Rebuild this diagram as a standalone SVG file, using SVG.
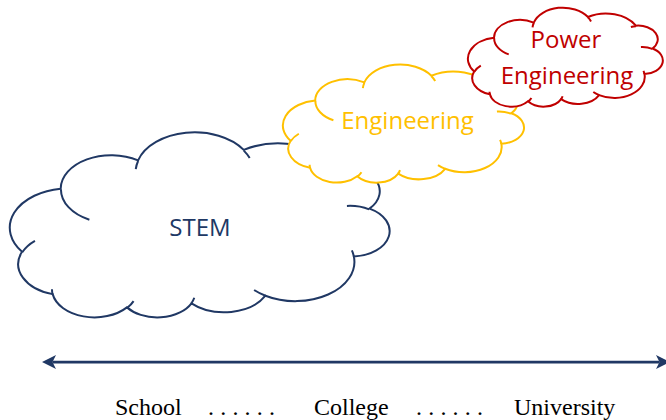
<svg xmlns="http://www.w3.org/2000/svg" xmlns:xlink="http://www.w3.org/1999/xlink" width="666" height="420" viewBox="0 0 666 420">
  <style>
    .cloud { fill: #ffffff; stroke-width: 2; }
    .stem { stroke: #203864; }
    .eng { stroke: #FFC000; }
    .pow { stroke: #C00000; }
    .lbl { font-family: "Open Sans", "Noto Sans", sans-serif; font-size: 24px; text-anchor: middle; }
    .axis { font-family: "Liberation Serif", "Times New Roman", serif; font-size: 24px; fill: #000000; }
    .dots { letter-spacing: 6.2px; }
  </style>
  <defs>
    <g id="cloudShape">
      <path vector-effect="non-scaling-stroke" d="M 3900 14370 A 6753 9190 0 0 1 14006 5202 A 5333 7267 0 0 1 22460 3432 A 4365 5945 0 0 1 29838 2481 A 4857 6595 0 0 1 38323 5576 A 5333 7273 0 0 1 41824 15460 A 6775 9220 0 0 1 37409 30202 A 5785 7867 0 0 1 28561 36812 A 6752 9215 0 0 1 16487 39267 A 7720 10543 0 0 1 5810 35471 A 4360 5918 0 0 1 2117 25552 A 4345 5945 0 0 1 3900 14370 Z"/>
      <path vector-effect="non-scaling-stroke" fill="none" d="M 4693 26177 A 4345 5945 0 0 1 2159 25379 M 6928 34899 A 4360 5918 0 0 1 5820 35281 M 16478 39090 A 6752 9215 0 0 1 15808 37346 M 28827 34751 A 6752 9215 0 0 1 28561 36660 M 34129 22954 A 5785 7867 0 0 1 37380 30089 M 41798 15354 A 5333 7273 0 0 1 40349 18031 M 38324 5426 A 4857 6595 0 0 1 38400 6690 M 29078 3952 A 4857 6595 0 0 1 29820 2340 M 22141 4720 A 4365 5945 0 0 1 22500 3331 M 14000 5192 A 6753 9190 0 0 1 15302 6543 M 4127 15789 A 6753 9190 0 0 1 3900 14371"/>
    </g>
    <marker id="arrowHead" markerUnits="userSpaceOnUse" viewBox="0 0 14 14" markerWidth="14" markerHeight="14" refX="3.5" refY="7" orient="auto-start-reverse">
      <path d="M 0 0 L 14 7 L 0 14 L 3.5 7 Z" fill="#203864"/>
    </marker>
  </defs>

  <g id="stem">
    <g class="cloud stem" transform="translate(388,318) scale(-0.00875,-0.0042824)">
      <use href="#cloudShape" xlink:href="#cloudShape"/>
    </g>
    <text class="lbl" x="200" y="236" fill="#203864">STEM</text>
  </g>

  <g id="engineering">
    <g class="cloud eng" transform="translate(523,183) scale(-0.0055556,-0.0027315)">
      <use href="#cloudShape" xlink:href="#cloudShape"/>
    </g>
    <text class="lbl" x="407.5" y="129" fill="#FFC000">Engineering</text>
  </g>

  <g id="power-engineering">
    <g class="cloud pow" transform="translate(662,107) scale(-0.0044907,-0.0022917)">
      <use href="#cloudShape" xlink:href="#cloudShape"/>
    </g>
    <text class="lbl" x="566" y="48" fill="#C00000">Power</text>
    <text class="lbl" x="567" y="84" fill="#C00000">Engineering</text>
  </g>

  <g id="connectors">
    <path d="M 52.5 362 H 659.5" stroke="#203864" stroke-width="2.75" fill="none" marker-start="url(#arrowHead)" marker-end="url(#arrowHead)"/>
  </g>

  <g id="axis-labels">
    <text class="axis" x="115" y="415">School</text>
    <text class="axis dots" x="208" y="415">......</text>
    <text class="axis" x="314" y="415">College</text>
    <text class="axis dots" x="416" y="415">......</text>
    <text class="axis" x="514" y="415">University</text>
  </g>
</svg>
